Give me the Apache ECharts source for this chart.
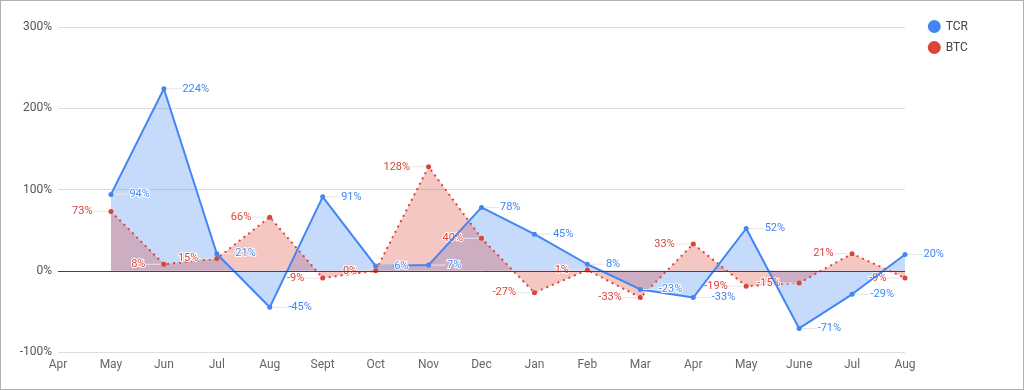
<!DOCTYPE html>
<html><head><meta charset="utf-8">
<script src="https://cdn.jsdelivr.net/npm/echarts@6/dist/echarts.min.js"></script>
<style>html,body{margin:0;padding:0;background:#fff}#c{width:1022px;height:388px;border:1px solid #b0b0b0}</style>
</head><body><div id="c"></div>
<script>
const categories = ['Apr','May','Jun','Jul','Aug','Sept','Oct','Nov','Dec','Jan','Feb','Mar','Apr','May','June','Jul','Aug'];
const tcr = [null,94,224,21,-45,91,6,7,78,45,8,-23,-33,52,-71,-29,20];
const btc = [null,73,8,15,66,-9,0,128,40,-27,1,-33,33,-19,-15,21,-9];
const yTicks = [-100,0,100,200,300];

const chart = echarts.init(document.getElementById('c'));
const blue = '#4285F4', red = '#DB4437';
function lbl(color, pos){
  return {show:true, position:pos, distance:4, formatter:'{c}%', color:color, fontSize:11, fontFamily:'Roboto',
    textBorderColor:'#fff', textBorderWidth:2};
}
chart.setOption({
  animation:false,
  grid:{left:57,right:118,top:26,bottom:37},
  legend:{orient:'vertical', right:50, top:14, itemGap:8, icon:'circle', itemWidth:13, itemHeight:13,
    textStyle:{color:'#444', fontSize:12, fontFamily:'Roboto'}, data:['TCR','BTC']},
  xAxis:{type:'category', data:categories, boundaryGap:false,
    axisLine:{show:false}, axisTick:{show:false},
    axisLabel:{color:'#666', fontSize:12, fontFamily:'Roboto', margin:7}},
  yAxis:{type:'value', min:-100, max:300, interval:100,
    axisLabel:{formatter:v=>yTicks.includes(v)?v+'%':'', color:'#555', fontSize:12, fontFamily:'Roboto', margin:6},
    splitLine:{lineStyle:{color:'#dcdcdc', width:1}}},
  series:[
    {name:'TCR area', type:'line', data:tcr, symbol:'none', lineStyle:{width:0, opacity:0},
      areaStyle:{color:blue, opacity:0.3}, silent:true, z:1,
      markLine:{silent:true, symbol:'none', label:{show:false}, lineStyle:{color:'#444', type:'solid', width:1},
        data:[{yAxis:0}]}},
    {name:'BTC', type:'line', data:btc, color:red, symbol:'circle', symbolSize:5,
      lineStyle:{color:red, width:2, type:[2,4]}, areaStyle:{color:red, opacity:0.3},
      label:lbl(red,'left'), labelLayout:{dx:-12}, labelLine:{show:true, lineStyle:{color:'#e6e6e6', width:1}}, z:2},
    {name:'TCR', type:'line', data:tcr, color:blue, symbol:'circle', symbolSize:5,
      lineStyle:{color:blue, width:2},
      label:lbl(blue,'right'), labelLayout:{dx:12}, labelLine:{show:true, lineStyle:{color:'#e6e6e6', width:1}}, z:3}
  ]
});
</script></body></html>
